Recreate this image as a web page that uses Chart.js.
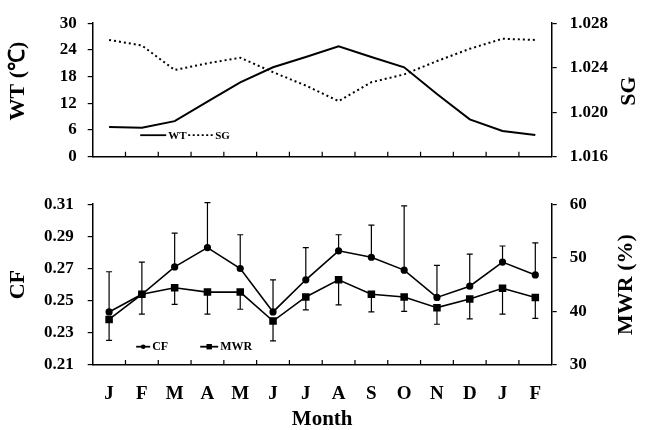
<!DOCTYPE html>
<html>
<head>
<meta charset="utf-8">
<script src="https://cdn.jsdelivr.net/npm/chart.js@4"></script>
<style>
body { margin: 0; background: #fff; }
#wrap { position: relative; width: 645px; height: 430px; }
canvas { position: absolute; left: 0; }
</style>
</head>
<body>
<div id="wrap">
  <canvas id="topChart" width="645" height="180" style="top:0"></canvas>
  <canvas id="botChart" width="645" height="250" style="top:180px"></canvas>
</div>
<script>
// months Jan..Feb of next year
const months = ['J', 'F', 'M', 'A', 'M', 'J', 'J', 'A', 'S', 'O', 'N', 'D', 'J', 'F'];

// top panel
const wt = [6.7, 6.5, 8.0, 12.4, 16.7, 20.1, 22.4, 24.8, 22.4, 20.1, 14.1, 8.4, 5.8, 4.9];
const sg = [1.0265, 1.0260, 1.0238, 1.0244, 1.0249, 1.0236, 1.0224, 1.0210, 1.0227, 1.0234, 1.0246, 1.0257, 1.0266, 1.0265];

// bottom panel, with the end of each error bar
const cf = [0.243, 0.254, 0.271, 0.283, 0.270, 0.243, 0.263, 0.281, 0.277, 0.269, 0.252, 0.259, 0.274, 0.266];
const cfTop = [0.268, 0.274, 0.292, 0.311, 0.291, 0.263, 0.283, 0.291, 0.297, 0.309, 0.272, 0.279, 0.284, 0.286];
const mwr = [38.5, 43.2, 44.4, 43.6, 43.6, 38.2, 42.7, 45.9, 43.2, 42.7, 40.7, 42.3, 44.3, 42.6];
const mwrLow = [34.6, 39.5, 41.3, 39.5, 40.4, 34.5, 40.3, 41.2, 39.9, 40.0, 37.6, 38.6, 39.5, 38.7];

// axis ticks
const wtTicks = { min: 0, max: 30, step: 6 };
const sgTicks = { min: 1.016, max: 1.028, step: 0.004 };
const cfTicks = { min: 0.21, max: 0.31, step: 0.02 };
const mwrTicks = { min: 30, max: 60, step: 10 };

const serif = "'Liberation Serif', 'Times New Roman', serif";
Chart.defaults.font.family = serif;
Chart.defaults.font.weight = 'bold';
Chart.defaults.color = '#000';

const yAxis = (pos, t, width, pad, fmt) => ({
  position: pos,
  min: t.min,
  max: t.max,
  ticks: { stepSize: t.step, font: { size: 17 }, padding: pad, callback: fmt },
  grid: { drawOnChartArea: false, tickLength: 5, color: '#000', lineWidth: 1.2 },
  border: { color: '#000', width: 1.5 },
  afterFit: s => { s.width = width; }
});

// small ticks between months, pointing into the plot
const innerTicks = {
  id: 'innerTicks',
  afterDraw(chart) {
    const x = chart.scales.x, ctx = chart.ctx, b = chart.chartArea.bottom;
    ctx.save();
    ctx.strokeStyle = '#000';
    ctx.lineWidth = 1.2;
    ctx.beginPath();
    for (let i = 1; i < months.length; i++) {
      const px = (x.getPixelForValue(i - 1) + x.getPixelForValue(i)) / 2;
      ctx.moveTo(px, b);
      ctx.lineTo(px, b - 5);
    }
    ctx.stroke();
    ctx.restore();
  }
};

// rotated axis titles (both read bottom to top)
const sideTitles = {
  id: 'sideTitles',
  afterDraw(chart, args, opts) {
    const ctx = chart.ctx, a = chart.chartArea;
    ctx.save();
    ctx.font = 'bold 22px ' + serif;
    ctx.fillStyle = '#000';
    ctx.textAlign = 'center';
    ctx.textBaseline = 'middle';
    opts.items.forEach(t => {
      const x = t.side === 'left' ? a.left - t.dx : a.right + t.dx;
      ctx.save();
      ctx.translate(x, (a.top + a.bottom) / 2 + (t.dy || 0));
      ctx.rotate(-Math.PI / 2);
      ctx.fillText(t.text, 0, 0);
      ctx.restore();
    });
    ctx.restore();
  }
};

// legend drawn inside the plot area
const inLegend = {
  id: 'inLegend',
  afterDraw(chart, args, opts) {
    const ctx = chart.ctx, a = chart.chartArea;
    const y = a.bottom - opts.dy;
    ctx.save();
    ctx.fillStyle = '#000';
    ctx.strokeStyle = '#000';
    ctx.font = 'bold ' + opts.size + 'px ' + serif;
    ctx.textBaseline = 'middle';
    opts.items.forEach(it => {
      const x0 = a.left + it.x;
      ctx.lineWidth = 1.8;
      ctx.setLineDash(it.dash || []);
      ctx.beginPath();
      ctx.moveTo(x0, y);
      ctx.lineTo(x0 + it.len, y);
      ctx.stroke();
      ctx.setLineDash([]);
      const cx = x0 + it.len / 2;
      if (it.marker === 'circle') {
        ctx.beginPath(); ctx.arc(cx, y, 2.3, 0, Math.PI * 2); ctx.fill();
      } else if (it.marker === 'rect') {
        ctx.fillRect(cx - 2.7, y - 2.7, 5.4, 5.4);
      }
      ctx.fillText(it.text, x0 + it.len + 2, y + 0.5);
    });
    ctx.restore();
  }
};

// one sided error bars: CF upward, MWR downward
const errorBars = {
  id: 'errorBars',
  afterDatasetsDraw(chart) {
    const ctx = chart.ctx, x = chart.scales.x, yl = chart.scales.yL, yr = chart.scales.yR;
    ctx.save();
    ctx.strokeStyle = '#000';
    ctx.lineWidth = 1.2;
    ctx.beginPath();
    for (let i = 0; i < months.length; i++) {
      const px = x.getPixelForValue(i);
      const a1 = yl.getPixelForValue(cf[i]), a2 = yl.getPixelForValue(cfTop[i]);
      ctx.moveTo(px, a1); ctx.lineTo(px, a2);
      ctx.moveTo(px - 3, a2); ctx.lineTo(px + 3, a2);
      const b1 = yr.getPixelForValue(mwr[i]), b2 = yr.getPixelForValue(mwrLow[i]);
      ctx.moveTo(px, b1); ctx.lineTo(px, b2);
      ctx.moveTo(px - 3, b2); ctx.lineTo(px + 3, b2);
    }
    ctx.stroke();
    ctx.restore();
  }
};

const xAxis = (showLabels, height) => ({
  type: 'category',
  offset: true,
  ticks: { display: showLabels, font: { size: 19 }, padding: 18, maxRotation: 0, autoSkip: false },
  grid: { drawOnChartArea: false, drawTicks: false, color: '#000' },
  border: { color: '#000', width: 1.5 },
  title: { display: showLabels, text: 'Month', font: { size: 21, lineHeight: 1 }, padding: 0 },
  afterFit: s => { s.height = height; }
});

new Chart(document.getElementById('topChart'), {
  type: 'line',
  data: {
    labels: months,
    datasets: [
      { label: 'WT', data: wt, yAxisID: 'yL', borderColor: '#000', borderWidth: 2, pointRadius: 0, tension: 0 },
      { label: 'SG', data: sg, yAxisID: 'yR', borderColor: '#000', borderWidth: 2, borderDash: [2, 3], pointRadius: 0, tension: 0 }
    ]
  },
  options: {
    responsive: false,
    animation: false,
    layout: { padding: { top: 14, bottom: 0, left: 0, right: 0 } },
    scales: {
      x: xAxis(false, 16.7),
      yL: yAxis('left', wtTicks, 92.7, 11, v => v),
      yR: yAxis('right', sgTicks, 93.3, 13, v => v.toFixed(3))
    },
    plugins: {
      legend: { display: false },
      tooltip: { enabled: false },
      sideTitles: { items: [
        { side: 'left', dx: 74, dy: -9, text: 'WT (℃)' },
        { side: 'right', dx: 78, dy: 1, text: 'SG' }
      ] },
      inLegend: { dy: 21.6, size: 11, items: [
        { x: 47.5, len: 26, text: 'WT' },
        { x: 95.5, len: 25, dash: [2, 2.5], text: 'SG' }
      ] }
    }
  },
  plugins: [innerTicks, sideTitles, inLegend]
});

new Chart(document.getElementById('botChart'), {
  type: 'line',
  data: {
    labels: months,
    datasets: [
      { label: 'CF', data: cf, yAxisID: 'yL', borderColor: '#000', backgroundColor: '#000', borderWidth: 1.6,
        pointStyle: 'circle', pointRadius: 2.8, tension: 0 },
      { label: 'MWR', data: mwr, yAxisID: 'yR', borderColor: '#000', backgroundColor: '#000', borderWidth: 1.6,
        pointStyle: 'rect', pointRadius: 4.2, tension: 0 }
    ]
  },
  options: {
    responsive: false,
    animation: false,
    layout: { padding: { top: 16.7, bottom: 0, left: 0, right: 0 } },
    scales: {
      x: xAxis(true, 65),
      yL: yAxis('left', cfTicks, 92.7, 14, v => v.toFixed(2)),
      yR: yAxis('right', mwrTicks, 93.3, 13, v => v)
    },
    plugins: {
      legend: { display: false },
      tooltip: { enabled: false },
      sideTitles: { items: [
        { side: 'left', dx: 74, text: 'CF' },
        { side: 'right', dx: 75, text: 'MWR (%)' }
      ] },
      inLegend: { dy: 18.3, size: 12, items: [
        { x: 43.5, len: 14, marker: 'circle', text: 'CF' },
        { x: 107.5, len: 18, marker: 'rect', text: 'MWR' }
      ] }
    }
  },
  plugins: [errorBars, innerTicks, sideTitles, inLegend]
});
</script>
</body>
</html>
